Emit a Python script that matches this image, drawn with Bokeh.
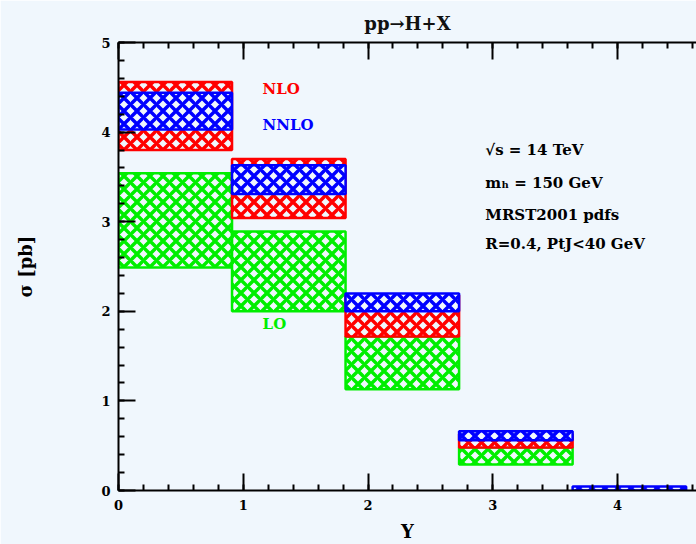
from bokeh.plotting import figure
from bokeh.models import LinearAxis, SingleIntervalTicker, ColumnDataSource, Range1d, CustomJSTickFormatter
from bokeh.core.properties import value
from bokeh.embed import file_html
from bokeh.resources import INLINE

# ---- data ----
bin_edges = [0.0, 0.91, 1.82, 2.73, 3.64, 4.55]
lo_low    = [2.49, 2.00, 1.13, 0.29, 0.0]
lo_high   = [3.54, 2.89, 1.72, 0.48, 0.0]
nlo_low   = [3.80, 3.04, 1.72, 0.48, 0.0]
nlo_high  = [4.56, 3.70, 2.18, 0.63, 0.0]
nnlo_low  = [4.03, 3.31, 2.00, 0.56, 0.0]
nnlo_high = [4.44, 3.63, 2.20, 0.66, 0.045]

series_names = ["LO", "NLO", "NNLO"]
series_colors = ["#00ee00", "#ff0000", "#0000ff"]
info_lines = ["√s = 14 TeV", "mₕ = 150 GeV", "MRST2001 pdfs", "R=0.4, PtJ<40 GeV"]

BG = "#f0f7fd"
FONT = "DejaVu Serif"

p = figure(width=696, height=544, output_backend="svg", toolbar_location=None,
           x_range=Range1d(0, 4.633), y_range=Range1d(0, 5),
           min_border_left=118, min_border_right=0, min_border_top=42, min_border_bottom=54,
           title="pp→H+X")
p.background_fill_color = BG
p.border_fill_color = BG
p.outline_line_color = None
p.xgrid.visible = False
p.ygrid.visible = False

p.title.align = "center"
p.title.text_font = FONT
p.title.text_font_size = "18px"
p.title.text_font_style = "bold"
p.title.text_color = "#111111"
p.title.standoff = 18

def style_axis(ax):
    ax.axis_line_color = "black"
    ax.axis_line_width = 2
    ax.major_tick_line_color = "black"
    ax.minor_tick_line_color = "black"
    ax.major_tick_line_width = 2
    ax.minor_tick_line_width = 2
    ax.major_tick_in = 17
    ax.major_tick_out = 0
    ax.minor_tick_in = 6
    ax.minor_tick_out = 0
    ax.major_label_text_font = FONT
    ax.major_label_text_font_style = "bold"
    ax.major_label_text_font_size = "13px"
    ax.major_label_text_color = "black"

p.xaxis.ticker = SingleIntervalTicker(interval=1, num_minor_ticks=5)
p.yaxis.ticker = SingleIntervalTicker(interval=1, num_minor_ticks=5)
style_axis(p.xaxis[0])
style_axis(p.yaxis[0])
p.xaxis.major_label_standoff = 9
p.yaxis.major_label_standoff = 8
p.xaxis.axis_label = "Y"
p.yaxis.axis_label = "σ [pb]"
for ax in (p.xaxis[0], p.yaxis[0]):
    ax.axis_label_text_font = FONT
    ax.axis_label_text_font_style = "bold"
    ax.axis_label_text_font_size = "18px"
    ax.axis_label_text_color = "black"
p.xaxis.axis_label_standoff = 8
p.yaxis.axis_label_standoff = 62

top_ax = LinearAxis(ticker=SingleIntervalTicker(interval=1, num_minor_ticks=5),
                    formatter=CustomJSTickFormatter(code="return ''"))
style_axis(top_ax)
top_ax.major_label_standoff = 0
p.add_layout(top_ax, "above")

lows = [lo_low, nlo_low, nnlo_low]
highs = [lo_high, nlo_high, nnlo_high]
for name, color, lo, hi in zip(series_names, series_colors, lows, highs):
    src = ColumnDataSource(dict(left=bin_edges[:-1], right=bin_edges[1:], bottom=lo, top=hi))
    p.quad(left="left", right="right", bottom="bottom", top="top", source=src,
           fill_color=BG, fill_alpha=1.0,
           hatch_pattern="diagonal_cross", hatch_color=color, hatch_scale=13, hatch_weight=3.5,
           line_color=color, line_width=2.5)

# series labels
label_pos = {"NLO": (1.155, 4.48), "NNLO": (1.155, 4.08), "LO": (1.155, 1.86)}
for name, color in zip(series_names, series_colors):
    x, y = label_pos[name]
    p.text(x=[x], y=[y], text=[name], text_color=color, text_font=value(FONT),
           text_font_style="bold", text_font_size="15px", text_baseline="middle", text_align="left")

info_y = [3.795, 3.43, 3.07, 2.75]
p.text(x=[2.94] * len(info_lines), y=info_y, text=info_lines, text_color="black",
       text_font=value(FONT), text_font_style="bold", text_font_size="15px",
       text_baseline="middle", text_align="left")

open("out.html", "w").write(file_html(p, INLINE))
